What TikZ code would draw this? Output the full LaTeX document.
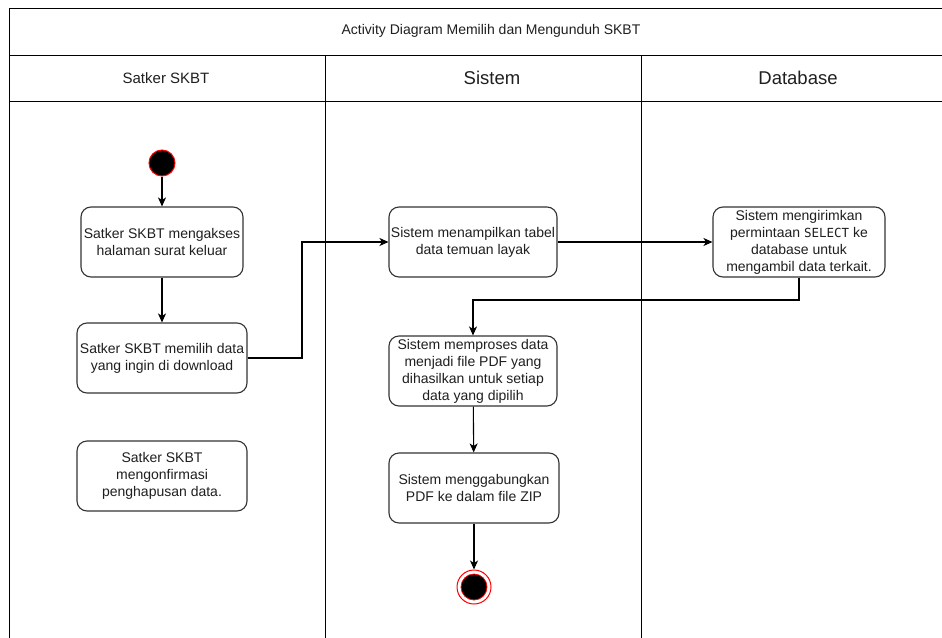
\documentclass[tikz,border=0pt]{standalone}
\usepackage{fontspec}
\setmainfont{Liberation Sans}
\setmonofont{DejaVu Sans Mono}
\usetikzlibrary{arrows.meta,calc}

\definecolor{ink}{HTML}{1F1F1F}
\definecolor{edge}{HTML}{333333}
\definecolor{startred}{HTML}{FF0000}

\tikzset{
  lane/.style={draw=black, line width=1pt},
  act/.style={draw=edge, line width=1.1pt, rounded corners=10pt, fill=white,
    align=center, inner sep=0pt, text=ink,
    font=\fontsize{14}{17}\selectfont},
  flow/.style={draw=black, line width=1.1pt,
    -{Stealth[length=9pt,width=8pt,inset=2.5pt]}},
  wire/.style={draw=black, line width=1.1pt},
  hdr/.style={text=ink, inner sep=0pt},
}

\begin{document}
\begin{tikzpicture}[x=1pt,y=-1pt]
  \useasboundingbox (0,0) rectangle (942,637);
  \fill[white] (0,0) rectangle (942,637);

  % swimlane frame
  \draw[lane] (960,8) -- (9.5,8) -- (9.5,660);
  \draw[lane] (9.5,55) -- (960,55);
  \draw[lane] (9.5,101) -- (960,101);
  \draw[lane] (325,55) -- (325,660);
  \draw[lane] (641,55) -- (641,660);

  % headings
  \node[hdr, font=\fontsize{14}{17}\selectfont] (title) at (491,31) {Activity Diagram Memilih dan Mengunduh SKBT};
  \node[hdr, font=\fontsize{15}{18}\selectfont] (h1) at (166,78) {Satker SKBT};
  \node[hdr, font=\fontsize{18.5}{22}\selectfont] (h2) at (492,78) {Sistem};
  \node[hdr, font=\fontsize{18.5}{22}\selectfont] (h3) at (798,78) {Database};

  % start / end
  \node[circle, fill=black, draw=startred, line width=1pt, minimum size=26pt, inner sep=0pt] (start) at (162,163) {};
  \node[circle, draw=startred, line width=1pt, fill=white, minimum size=34pt, inner sep=0pt] (end) at (474,587) {};
  \node[circle, fill=black, draw=startred, line width=0.8pt, minimum size=26pt, inner sep=0pt] (endcore) at (474,587) {};

  % actions
  \node[act, minimum width=162pt, minimum height=70pt] (a1) at (162,242)
    {Satker SKBT mengakses\\halaman surat keluar};
  \node[act, minimum width=170pt, minimum height=70pt] (a2) at (162,358)
    {Satker SKBT memilih data\\yang ingin di download};
  \node[act, minimum width=170pt, minimum height=70pt] (a3) at (162,476)
    {Satker SKBT\\mengonfirmasi\\penghapusan data.};
  \node[act, minimum width=168pt, minimum height=70pt] (s1) at (473,242)
    {Sistem menampilkan tabel\\data temuan layak};
  \node[act, minimum width=172pt, minimum height=70pt] (d1) at (799,242)
    {Sistem mengirimkan\\permintaan {\ttfamily\fontsize{12.5}{17}\selectfont SELECT} ke\\database untuk\\mengambil data terkait.};
  \node[act, minimum width=168pt, minimum height=70pt] (s2) at (473,371)
    {Sistem memproses data\\menjadi file PDF yang\\dihasilkan untuk setiap\\data yang dipilih};
  \node[act, minimum width=170pt, minimum height=70pt] (s3) at (474,488)
    {Sistem menggabungkan\\PDF ke dalam file ZIP};

  % bends
  \coordinate (b1) at (302,358);
  \coordinate (b2) at (799,300);

  % flows
  \draw[flow] (start) -- (a1);
  \draw[flow] (a1) -- (a2);
  \draw[flow] (a2.east) -- (b1) |- (s1.west);
  \draw[flow] (s1.east) -- (d1.west);
  \draw[flow] (d1.south) -- (b2) -| (s2.north);
  \draw[flow] (s2) -- (s3);
  \draw[flow] (s3) -- (end);
\end{tikzpicture}
\end{document}
